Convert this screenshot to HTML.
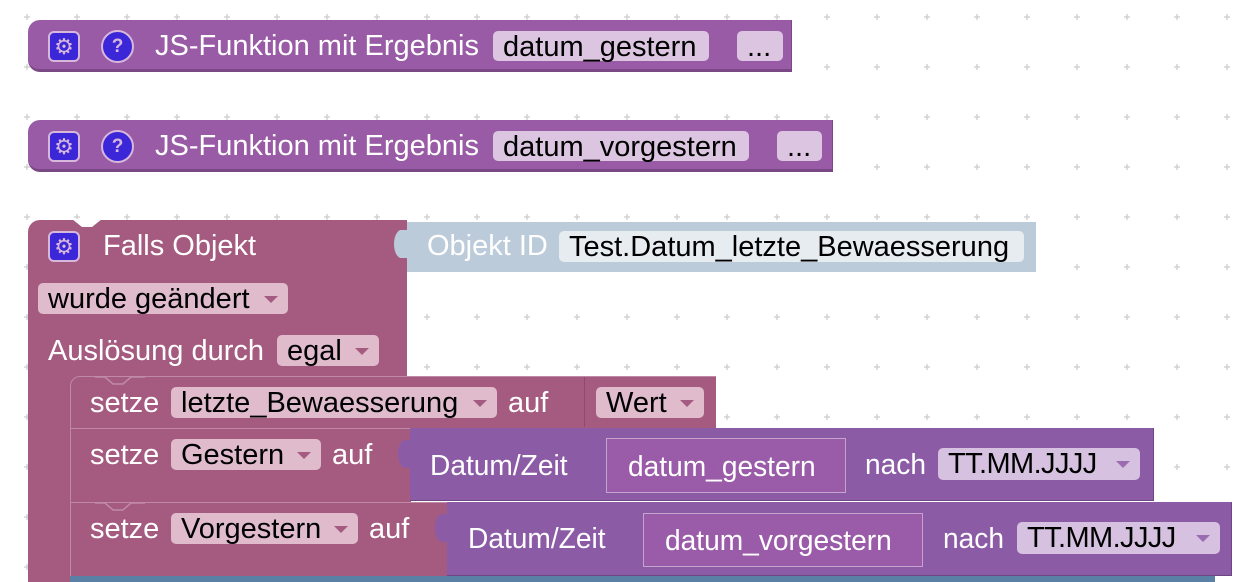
<!DOCTYPE html>
<html><head><meta charset="utf-8"><style>
body{margin:0;width:1248px;height:582px;overflow:hidden;background:#fff;font-family:"Liberation Sans",sans-serif;position:relative}
.a{position:absolute;box-sizing:border-box}
.t{position:absolute;font-size:29px;line-height:30px;white-space:nowrap}
.w{color:#fff}
.f{position:absolute;box-sizing:border-box;border-radius:5px;font-size:29px;line-height:32px;padding-left:10px;color:#000;white-space:nowrap}
.dd::after{content:"";position:absolute;right:10px;top:13px;border-left:7px solid transparent;border-right:7px solid transparent;border-top:7px solid #a55b80}
.pd::after{border-top-color:#9a6cb0}
.gear{position:absolute;width:32px;height:31px;background:#3c27d8;border:2px solid #d7b8dc;border-radius:6px;box-sizing:border-box;color:#d7b8dc;font-size:22px;line-height:27px;text-align:center}
.q{position:absolute;width:33px;height:33px;background:#3c27d8;border:2px solid #d7b8dc;border-radius:50%;box-sizing:border-box;color:#d7b8dc;font-size:19px;font-weight:bold;line-height:29px;text-align:center}
.s{transform:scaleX(0.97);transform-origin:left}
</style></head><body>
<svg class="a" style="left:0;top:0" width="1248" height="582">
<defs><pattern id="p" x="22" y="12" width="50" height="50" patternUnits="userSpaceOnUse"><path d="M5 2v6M2 5h6" stroke="#ccc" stroke-width="1.3"/></pattern></defs>
<rect width="1248" height="582" fill="url(#p)"/>
</svg>

<div class="a" style="left:28px;top:20px;width:764px;height:52px;background:#995ba5;border-radius:12px 0 0 12px;border-bottom:3px solid #7a4884;border-right:1px solid #7a4884"></div>
<div class="gear" style="left:48px;top:31px">⚙</div>
<div class="q" style="left:101px;top:30px">?</div>
<div class="t w" style="left:155px;top:31px">JS-Funktion mit Ergebnis</div>
<div class="f" style="left:493px;top:31px;width:216px;height:30px;background:#dcc5e0">datum_gestern</div>
<div class="f" style="left:737px;top:31px;width:46px;height:30px;background:#dcc5e0">...</div>

<div class="a" style="left:28px;top:120px;width:805px;height:52px;background:#995ba5;border-radius:12px 0 0 12px;border-bottom:3px solid #7a4884;border-right:1px solid #7a4884"></div>
<div class="gear" style="left:48px;top:131px">⚙</div>
<div class="q" style="left:101px;top:130px">?</div>
<div class="t w" style="left:155px;top:131px">JS-Funktion mit Ergebnis</div>
<div class="f" style="left:493px;top:131px;width:256px;height:30px;background:#dcc5e0">datum_vorgestern</div>
<div class="f" style="left:777px;top:131px;width:45px;height:30px;background:#dcc5e0">...</div>

<div class="a" style="left:28px;top:220px;width:379px;height:362px;background:#a55b80;border-radius:12px 0 0 0"></div>
<svg class="a" style="left:60px;top:219px" width="60" height="12"><path d="M0 0 L12 0 L22 8 L32 8 L42 0 L60 0" fill="#fff"/></svg>
<div class="a" style="left:407px;top:222px;width:629px;height:50px;background:#bccbd9"></div>
<svg class="a" style="left:390px;top:230px" width="20" height="30"><path d="M17 0 L10 0 C2 4 2 24 10 28 L17 28Z" fill="#bccbd9"/></svg>
<div class="gear" style="left:48px;top:231px">⚙</div>
<div class="t w" style="left:103px;top:231px">Falls Objekt</div>
<div class="t w" style="left:427px;top:231px">Objekt ID</div>
<div class="f" style="left:559px;top:231px;width:465px;height:31px;background:#e7ecf1">Test.Datum_letzte_Bewaesserung</div>
<div class="f dd" style="left:38px;top:283px;width:250px;height:31px;background:#dfbbcc;padding-right:30px">wurde geändert</div>
<div class="t w" style="left:48px;top:336px">Auslösung durch</div>
<div class="f dd" style="left:277px;top:335px;width:102px;height:31px;background:#dfbbcc">egal</div>

<div class="a" style="left:70px;top:376px;width:646px;height:52px;background:#a55b80;border-radius:10px 0 0 0;border-top:1px solid #c08aa6;border-left:1px solid #c08aa6"></div>
<svg class="a" style="left:95px;top:376px" width="50" height="12"><path d="M0 1 L10 1 L18 8 L28 8 L36 1 L50 1" fill="none" stroke="#c08aa6" stroke-width="1.5"/></svg>
<div class="t w" style="left:90px;top:388px">setze</div>
<div class="f dd" style="left:171px;top:387px;width:326px;height:31px;background:#dfbbcc">letzte_Bewaesserung</div>
<div class="t w" style="left:508px;top:388px">auf</div>
<div class="a" style="left:584px;top:377px;width:1px;height:50px;background:#8d4a6b"></div>
<div class="f dd" style="left:596px;top:387px;width:108px;height:31px;background:#dfbbcc">Wert</div>

<div class="a" style="left:70px;top:428px;width:341px;height:74px;background:#a55b80;border-top:1px solid #c08aa6;border-left:1px solid #c08aa6"></div>
<div class="t w" style="left:90px;top:440px">setze</div>
<div class="f dd" style="left:171px;top:439px;width:150px;height:31px;background:#dfbbcc">Gestern</div>
<div class="t w" style="left:332px;top:440px">auf</div>
<div class="a" style="left:410px;top:428px;width:744px;height:73px;background:#8c5ba6;border-bottom:1px solid #6e4585;border-right:1px solid #6e4585"></div>
<svg class="a" style="left:394px;top:440px" width="20" height="30"><path d="M17 0 L10 0 C2 4 2 24 10 28 L17 28Z" fill="#8c5ba6"/></svg>
<div class="t w s" style="left:430px;top:451px">Datum/Zeit</div>
<div class="a" style="left:606px;top:438px;width:240px;height:55px;background:#9a5ca8;border:1px solid #c4a3cc"></div>
<div class="t w s" style="left:628px;top:452px">datum_gestern</div>
<div class="t w s" style="left:865px;top:450px">nach</div>
<div class="f dd pd" style="left:938px;top:448px;width:202px;height:32px;background:#d6c1e0;letter-spacing:-0.6px">TT.MM.JJJJ</div>

<div class="a" style="left:70px;top:502px;width:378px;height:74px;background:#a55b80;border-top:1px solid #c08aa6;border-left:1px solid #c08aa6"></div>
<svg class="a" style="left:95px;top:502px" width="50" height="12"><path d="M0 1 L10 1 L18 8 L28 8 L36 1 L50 1" fill="none" stroke="#c08aa6" stroke-width="1.5"/></svg>
<div class="t w" style="left:90px;top:514px">setze</div>
<div class="f dd" style="left:171px;top:513px;width:187px;height:31px;background:#dfbbcc">Vorgestern</div>
<div class="t w" style="left:369px;top:514px">auf</div>
<div class="a" style="left:447px;top:502px;width:785px;height:74px;background:#8c5ba6;border-bottom:1px solid #6e4585;border-right:1px solid #6e4585"></div>
<svg class="a" style="left:431px;top:514px" width="20" height="30"><path d="M17 0 L10 0 C2 4 2 24 10 28 L17 28Z" fill="#8c5ba6"/></svg>
<div class="t w s" style="left:468px;top:524px">Datum/Zeit</div>
<div class="a" style="left:643px;top:513px;width:280px;height:54px;background:#9a5ca8;border:1px solid #c4a3cc"></div>
<div class="t w s" style="left:665px;top:526px">datum_vorgestern</div>
<div class="t w s" style="left:943px;top:524px">nach</div>
<div class="f dd pd" style="left:1017px;top:522px;width:203px;height:32px;background:#d6c1e0;letter-spacing:-0.6px">TT.MM.JJJJ</div>

<div class="a" style="left:70px;top:576px;width:1145px;height:6px;background:#5b80a5"></div>
</body></html>
